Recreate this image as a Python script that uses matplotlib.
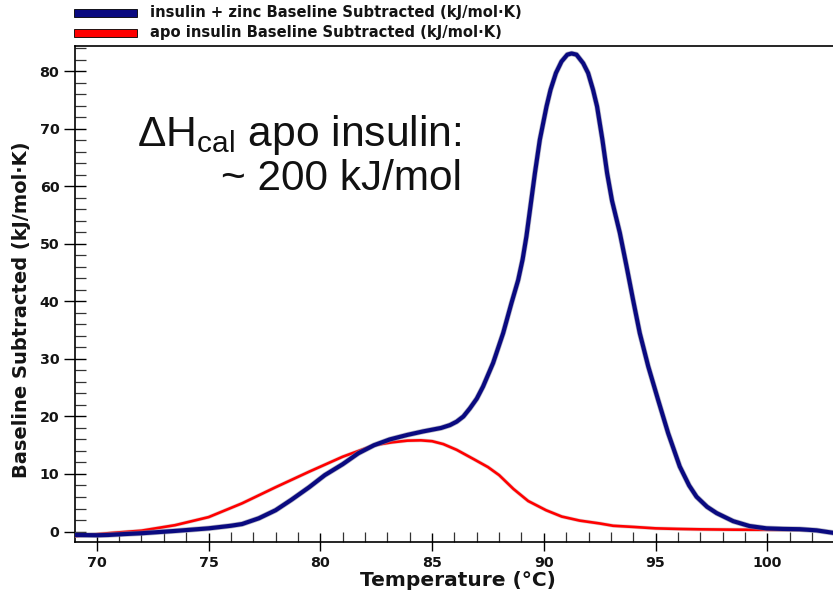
import numpy as np
import matplotlib
matplotlib.use("Agg")
import matplotlib.pyplot as plt
import matplotlib.patheffects as pe
from matplotlib.patches import Rectangle
from matplotlib.ticker import MultipleLocator

plt.rcParams['font.family'] = ['DejaVu Sans']
plt.rcParams['mathtext.default'] = 'regular'

# insulin + zinc
temp_zinc = [69.03, 70.0, 70.5, 71.2, 72.0, 73.5, 75.0, 76.0, 76.5, 77.25, 78.0, 78.7,
             79.5, 80.2, 81.0, 81.7, 82.4, 83.1, 83.9, 84.6, 85.4, 85.8, 86.1, 86.4,
             86.69, 87.0, 87.28, 87.73, 88.18, 88.55, 88.85, 89.05, 89.22, 89.4, 89.6, 89.82,
             90.12, 90.3, 90.54, 90.79, 91.05, 91.24, 91.46, 91.76, 91.98, 92.2, 92.38,
             92.62, 92.83, 93.05, 93.4, 93.7, 93.99, 94.29, 94.67, 95.11, 95.56, 96.08,
             96.5, 96.83, 97.3, 97.73, 98.47, 99.2, 99.96, 100.7, 101.45, 102.2, 103.07]
cp_zinc = [-0.6, -0.65, -0.6, -0.45, -0.3, 0.1, 0.55, 1.0, 1.3, 2.3, 3.7, 5.5,
           7.7, 9.8, 11.7, 13.6, 15.0, 16.0, 16.8, 17.4, 18.0, 18.5, 19.1, 20.0,
           21.4, 23.1, 25.2, 29.3, 34.5, 39.7, 43.7, 47.3, 51.3, 56.5, 62.3, 68.1,
           73.9, 76.8, 79.7, 81.7, 82.9, 83.1, 82.9, 81.4, 79.7, 76.8, 73.9,
           68.1, 62.3, 57.5, 51.9, 46.1, 40.3, 34.5, 28.7, 22.9, 17.1, 11.3,
           8.0, 6.05, 4.3, 3.2, 1.8, 0.95, 0.55, 0.45, 0.4, 0.2, -0.3]

# apo insulin
temp_apo = [69.03, 70.5, 72.0, 73.5, 75.0, 76.5, 78.0, 79.5, 81.0, 82.4, 83.2, 83.9,
            84.5, 85.0, 85.5, 86.1, 86.9, 87.5, 88.0, 88.64, 89.3, 90.1, 90.8, 91.6, 92.5,
            93.1, 94.0, 95.0, 96.0, 97.0, 98.5, 100.0, 101.65]
cp_apo = [-0.8, -0.3, 0.15, 1.1, 2.5, 4.9, 7.7, 10.4, 13.0, 15.0, 15.5, 15.8,
          15.85, 15.7, 15.2, 14.2, 12.5, 11.2, 9.8, 7.4, 5.3, 3.7, 2.6, 1.9, 1.4,
          1.0, 0.8, 0.55, 0.45, 0.38, 0.32, 0.3, 0.3]

label_zinc = 'insulin + zinc Baseline Subtracted (kJ/mol\u00b7K)'
label_apo = 'apo insulin Baseline Subtracted (kJ/mol\u00b7K)'
navy = '#0a0a80'
red = '#ff0000'
ink = '#141414'

fig = plt.figure(figsize=(8.33, 5.99), dpi=100)
W, H = 833.0, 599.0
ax = fig.add_axes([75 / W, 1 - 541.7 / H, (836 - 75) / W, (541.7 - 46) / H])

ax.plot(temp_apo, cp_apo, color=red, lw=1.9, zorder=3,
        path_effects=[pe.Stroke(linewidth=2.8, foreground='#c8a0a0', alpha=0.5), pe.Normal()])
ax.plot(temp_zinc, cp_zinc, color=navy, lw=3.0, zorder=4,
        path_effects=[pe.Stroke(linewidth=4.0, foreground='#8888a0', alpha=0.6), pe.Normal()])

ax.set_xlim(69.025, 103.07)
ax.set_ylim(-1.77, 84.4)

ax.xaxis.set_major_locator(MultipleLocator(5))
ax.xaxis.set_minor_locator(MultipleLocator(1))
ax.yaxis.set_major_locator(MultipleLocator(10))
ax.yaxis.set_minor_locator(MultipleLocator(2))
ax.tick_params(axis='x', which='major', direction='inout', length=13, width=1.0, pad=4)
ax.tick_params(axis='x', which='minor', direction='in', length=7, width=0.9, color='#333333')
ax.tick_params(axis='y', which='major', direction='inout', length=15.5, width=1.0, pad=3.5)
ax.tick_params(axis='y', which='minor', direction='in', length=8, width=0.9, color='#333333')
for lab in ax.get_xticklabels() + ax.get_yticklabels():
    lab.set_fontweight('bold')
    lab.set_fontsize(10.3)
    lab.set_color(ink)

for s in ['left', 'bottom', 'top']:
    ax.spines[s].set_linewidth(1.2)
ax.spines['right'].set_visible(False)

fig.text(22 / W, 1 - 310 / H, 'Baseline Subtracted (kJ/mol\u00b7K)', rotation=90,
         ha='center', va='center', fontsize=14, fontweight='bold', color=ink)
fig.text(458 / W, 1 - 581 / H, 'Temperature (\u00b0C)', ha='center', va='center',
         fontsize=14.5, fontweight='bold', color=ink)

# legend strip above the plot
fig.add_artist(Rectangle((74 / W, 1 - 17 / H), 63 / W, 8 / H, transform=fig.transFigure,
                         facecolor=navy, edgecolor='black', lw=0.6))
fig.add_artist(Rectangle((74 / W, 1 - 36.5 / H), 63 / W, 7.5 / H, transform=fig.transFigure,
                         facecolor=red, edgecolor='black', lw=0.6))
fig.text(150 / W, 1 - 12.3 / H, label_zinc, ha='left', va='center', fontsize=10.6,
         fontweight='bold', color=ink)
fig.text(150 / W, 1 - 32.3 / H, label_apo, ha='left', va='center', fontsize=10.6,
         fontweight='bold', color=ink)

fig.text(137 / W, 1 - 146 / H, r'$\Delta$H$_{cal}$ apo insulin:', ha='left', va='baseline',
         fontsize=30.7, color='#111111', family='Liberation Sans')
fig.text(462 / W, 1 - 190 / H, '~ 200 kJ/mol', ha='right', va='baseline',
         fontsize=30.5, color='#111111', family='Liberation Sans')

fig.savefig('out.png', dpi=100)
